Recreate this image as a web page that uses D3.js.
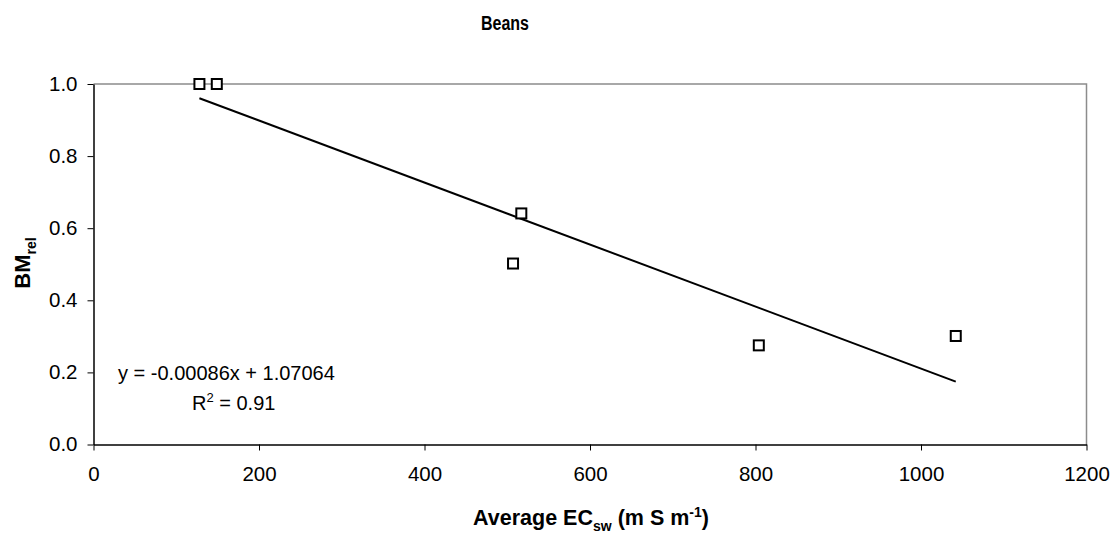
<!DOCTYPE html>
<html><head><meta charset="utf-8">
<script src="https://cdn.jsdelivr.net/npm/d3@7"></script>
<style>body{margin:0;background:#fff}svg{display:block}text{font-family:"Liberation Sans",Arial,sans-serif}</style>
</head><body>
<script>
const ecValues = [128, 149, 507, 517, 804, 1042];
const bmValues = [1.0, 1.0, 0.502, 0.641, 0.275, 0.301];
const xTicks = [0, 200, 400, 600, 800, 1000, 1200];
const yTicks = [0.0, 0.2, 0.4, 0.6, 0.8, 1.0];
const slope = -0.00086, intercept = 1.07064;
const title = "Beans";

const W = 1118, H = 535;
const svg = d3.select("body").append("svg").attr("width", W).attr("height", H);
const x = d3.scaleLinear().domain([0, 1200]).range([93.5, 1086.5]);
const y = d3.scaleLinear().domain([0, 1]).range([444.5, 84]);

svg.append("path").attr("d", `M${x(0)},${y(1)}H${x(1200)}V${y(0)}`)
  .attr("fill","none").attr("stroke","#8c8c8c").attr("stroke-width",1.5);

const xa = svg.append("g").attr("transform",`translate(0,${y(0)})`)
  .call(d3.axisBottom(x).tickValues(xTicks).tickSize(6).tickSizeOuter(0).tickPadding(16).tickFormat(d3.format("d")));
const ya = svg.append("g").attr("transform",`translate(${x(0)},0)`)
  .call(d3.axisLeft(y).tickValues(yTicks).tickSize(6).tickSizeOuter(0).tickPadding(10).tickFormat(d3.format(".1f")));
[xa, ya].forEach(a => {
  a.select(".domain").attr("stroke","#000").attr("stroke-width",1.5);
  a.selectAll(".tick line").attr("stroke","#000").attr("stroke-width",1);
  a.selectAll("text").attr("font-size",20.5).attr("fill","#000").style("font-family","'Liberation Sans',Arial,sans-serif");
});
ya.selectAll("text").attr("dy","0.3em");

const xmin = d3.min(ecValues), xmax = d3.max(ecValues);
svg.append("line").attr("x1",x(xmin)).attr("y1",y(slope*xmin+intercept))
  .attr("x2",x(xmax)).attr("y2",y(slope*xmax+intercept))
  .attr("stroke","#000").attr("stroke-width",2);

svg.selectAll("rect.pt").data(ecValues).enter().append("rect").attr("class","pt")
  .attr("x",(d)=>x(d)-5).attr("y",(d,i)=>y(bmValues[i])-5)
  .attr("width",10).attr("height",10)
  .attr("fill","#fff").attr("stroke","#000").attr("stroke-width",2);

svg.append("text").attr("x",505).attr("y",30).attr("text-anchor","middle")
  .attr("font-size",20).attr("font-weight","bold")
  .attr("textLength",48).attr("lengthAdjust","spacingAndGlyphs").text(title);

svg.append("text").attr("x",118).attr("y",380).attr("font-size",20).text("y = -0.00086x + 1.07064");
const r2 = svg.append("text").attr("x",192).attr("y",410).attr("font-size",20);
r2.append("tspan").text("R");
r2.append("tspan").attr("dy",-8).attr("font-size",13).text("2");
r2.append("tspan").attr("dy",8).text(" = 0.91");

const xt = svg.append("text").attr("x",591).attr("y",525).attr("text-anchor","middle")
  .attr("font-size",21.5).attr("font-weight","bold");
xt.append("tspan").text("Average EC");
xt.append("tspan").attr("dy",6).attr("font-size",14).text("sw");
xt.append("tspan").attr("dy",-6).text(" (m S m");
xt.append("tspan").attr("dy",-8).attr("font-size",14).text("-1");
xt.append("tspan").attr("dy",8).text(")");

const yt = svg.append("text").attr("transform","translate(30,263) rotate(-90)").attr("text-anchor","middle")
  .attr("font-size",22).attr("font-weight","bold");
yt.append("tspan").text("BM");
yt.append("tspan").attr("dy",6).attr("font-size",14).text("rel");
</script>
</body></html>
